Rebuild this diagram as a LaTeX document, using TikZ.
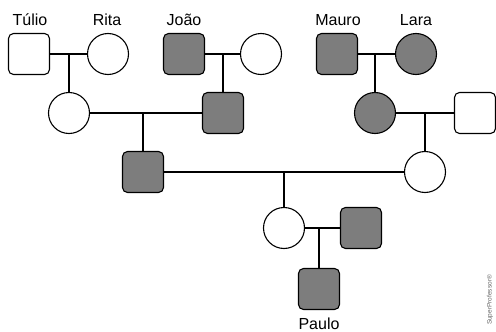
\documentclass[tikz,border=0pt]{standalone}
\usepackage{fontspec}
\setmainfont{Liberation Sans}
\begin{document}
\begin{tikzpicture}[x=1pt,y=-1pt,
  person/.style={draw=black,line width=1.1pt,minimum size=41pt,inner sep=0pt,outer sep=0pt},
  male/.style={person,rectangle,rounded corners=5pt},
  female/.style={person,circle},
  aff/.style={fill=gray!98!black},
  healthy/.style={fill=white},
  lbl/.style={font=\fontsize{16}{18}\selectfont,inner sep=0pt},
  link/.style={line width=1.1pt}]
\useasboundingbox (0,0) rectangle (496,332);
% generation 1
\node[male,healthy] (tulio) at (29,54) {};
\node[female,healthy] (rita) at (108,54) {};
\node[male,aff] (joao) at (184,54) {};
\node[female,healthy] (jw) at (261,54) {};
\node[male,aff] (mauro) at (337,54) {};
\node[female,aff] (lara) at (416,54) {};
% labels
\node[lbl] (ltulio) at (30,20) {Túlio};
\node[lbl] (lrita) at (107,20) {Rita};
\node[lbl] (ljoao) at (184,20) {João};
\node[lbl] (lmauro) at (338,20) {Mauro};
\node[lbl] (llara) at (416,20) {Lara};
% generation 2
\node[female,healthy] (g2a) at (69,113) {};
\node[male,aff] (g2b) at (223,113) {};
\node[female,aff] (g2c) at (375,113) {};
\node[male,healthy] (g2d) at (475,113) {};
% generation 3
\node[male,aff] (g3a) at (143,172) {};
\node[female,healthy] (g3b) at (425,172) {};
% generation 4
\node[female,healthy] (g4a) at (284,228) {};
\node[male,aff] (g4b) at (361,228) {};
% generation 5
\node[male,aff] (paulo) at (319,289) {};
\node[lbl,anchor=base] (lpaulo) at (319,329) {Paulo};
% watermark
\node[rotate=90,font=\fontsize{6.5}{7}\selectfont,text=gray!80!black,inner sep=0pt] (wm) at (490,300) {SuperProfessor®};
% connectors
\draw[link] (tulio) -- (rita);
\draw[link] (g2a) -- (g2a |- tulio);
\draw[link] (joao) -- (jw);
\draw[link] (g2b) -- (g2b |- joao);
\draw[link] (mauro) -- (lara);
\draw[link] (g2c) -- (g2c |- mauro);
\draw[link] (g2a) -- (g2b);
\draw[link] (g3a) -- (g3a |- g2a);
\draw[link] (g2c) -- (g2d);
\draw[link] (g3b) -- (g3b |- g2c);
\draw[link] (g3a) -- (g3b);
\draw[link] (g4a) -- (g4a |- g3a);
\draw[link] (g4a) -- (g4b);
\draw[link] (paulo) -- (paulo |- g4a);
\end{tikzpicture}
\end{document}
